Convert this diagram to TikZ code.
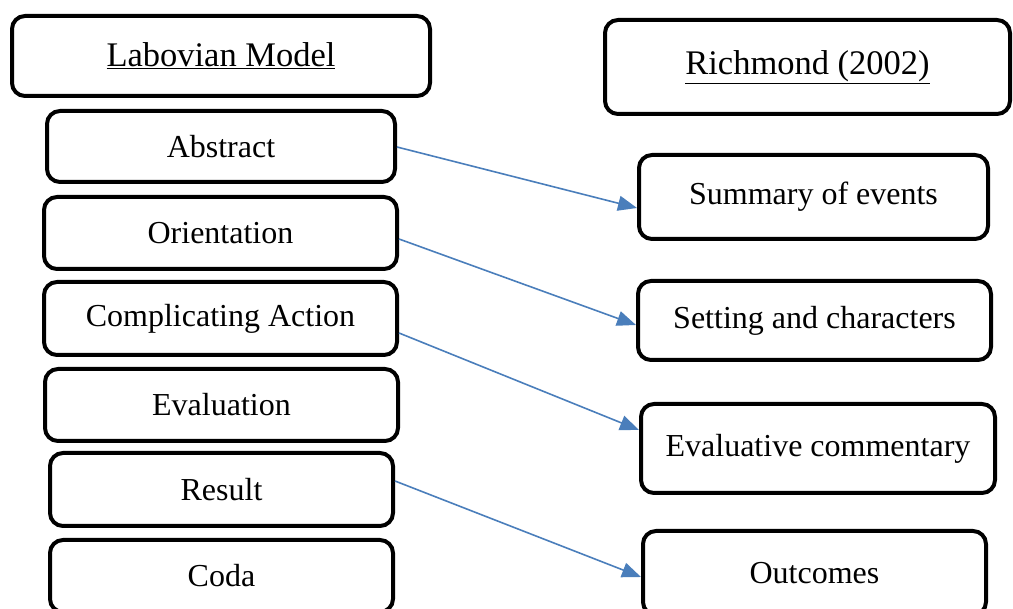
\documentclass[tikz,border=0pt]{standalone}
\usepackage{fontspec}
\setmainfont{Liberation Serif}
\usetikzlibrary{arrows.meta}
\definecolor{linkblue}{HTML}{4A7EBB}
\begin{document}
\begin{tikzpicture}[x=1pt,y=-1pt,
  box/.style={draw=black,line width=4pt,rounded corners=13pt,fill=white,
    inner sep=0pt,font=\fontsize{32}{38}\selectfont},
  title/.style={box,font=\fontsize{34.5}{40}\selectfont},
  link/.style={draw=linkblue,line width=1.6pt,
    -{Triangle[length=19pt,width=15pt]}}]
\useasboundingbox (0,0) rectangle (1013,609);
\clip (0,0) rectangle (1013,609);

% left column: Labovian model
\node[title,minimum width=418pt,minimum height=80pt] (lab) at (221,56) {\underline{Labovian Model}};
\node[box,minimum width=348pt,minimum height=71pt] (abs) at (221,146.5) {Abstract};
\node[box,minimum width=353pt,minimum height=72pt] (ori) at (220.5,233) {Orientation};
\node[box,minimum width=353pt,minimum height=73pt] (comp) at (220.5,318.5) {Complicating Action};
\node[box,minimum width=353pt,minimum height=72pt] (eval) at (221.5,405) {Evaluation};
\node[box,minimum width=343pt,minimum height=73pt] (res) at (221.5,489.5) {Result};
\node[box,minimum width=343pt,minimum height=72pt] (coda) at (221.5,576) {Coda};

% right column: Richmond (2002)
\node[title,minimum width=405pt,minimum height=94pt] (rich) at (807.5,67) {\underline{Richmond (2002)}};
\node[box,minimum width=349pt,minimum height=84pt] (sum) at (813.5,197) {Summary of events};
\node[box,minimum width=353pt,minimum height=79pt] (set) at (814.5,320.5) {Setting and characters};
\node[box,minimum width=354pt,minimum height=89pt] (evc) at (818,448.5) {Evaluative commentary};
\node[box,minimum width=343pt,minimum height=84pt] (out) at (814.5,573) {Outcomes};

% correspondences
\draw[link] ([yshift=-0.5pt]abs.east) -- ([yshift=-11pt]sum.west);
\draw[link] ([yshift=-6pt]ori.east) -- ([yshift=-4.5pt]set.west);
\draw[link] ([yshift=-14.5pt]comp.east) -- ([yshift=18.5pt]evc.west);
\draw[link] ([yshift=8.5pt]res.east) -- ([yshift=-4pt]out.west);
\end{tikzpicture}
\end{document}
